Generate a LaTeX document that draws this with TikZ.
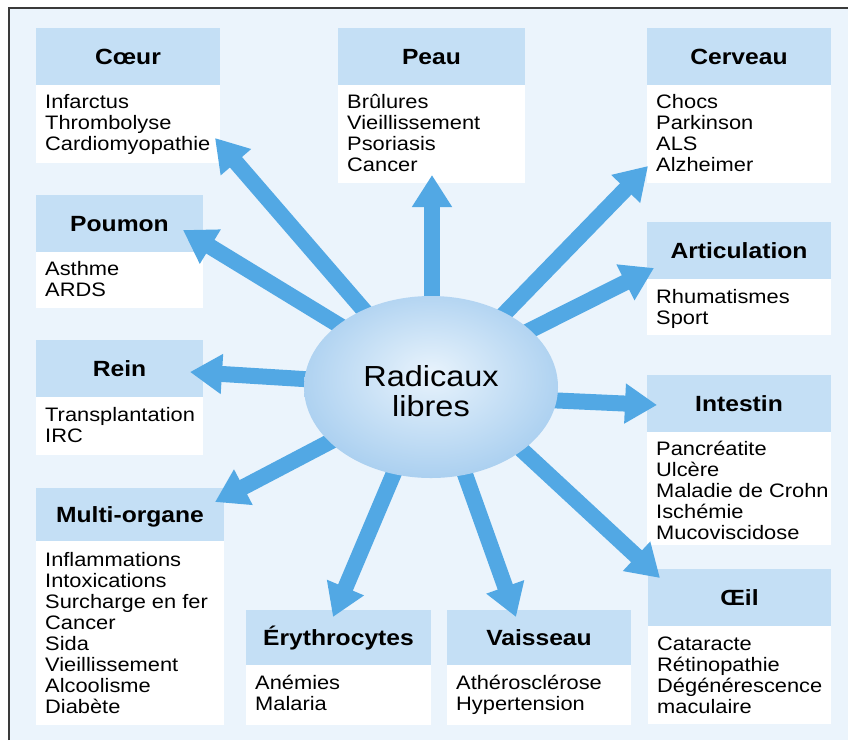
\documentclass[tikz,border=0pt]{standalone}
\usepackage{fontspec}
\setmainfont{Liberation Sans}[FakeStretch=1.12]
\usetikzlibrary{arrows.meta,shapes.geometric}
\definecolor{bgc}{HTML}{EBF4FC}
\definecolor{hdrc}{HTML}{C4DFF5}
\definecolor{arrc}{HTML}{52A8E4}
\definecolor{framec}{HTML}{3A3A3A}
\definecolor{ellin}{HTML}{E8F3FC}
\definecolor{ellout}{HTML}{A6CDEF}
\pgfdeclareradialshading{radsh}{\pgfpoint{0bp}{4bp}}{color(0bp)=(ellin); color(29bp)=(ellout); color(50bp)=(ellout)}
% #1 id, #2 x1, #3 x2, #4 header top, #5 body top, #6 body bottom, #7 title, #8 lines, #9 first baseline offset
\newcommand\organbox[9]{%
  \node[hdr, minimum width={#3-#2}, minimum height={#5-#4}] (#1-h) at ({(#2+#3)/2},{(#4+#5)/2}) {#7};
  \node[bodbox, minimum width={#3-#2}, minimum height={#6-#5}] (#1-b) at ({(#2+#3)/2},{(#5+#6)/2}) {};
  \foreach \t [count=\i] in {#8} {\node[item, anchor=base west] (#1-l\i) at ({#2+9},{#5+#9+21*(\i-1)}) {\t};}
}
\begin{document}
\begin{tikzpicture}[x=1pt,y=-1pt,
  hdr/.style={fill=hdrc, inner sep=0pt, font=\fontsize{22}{24}\selectfont\bfseries, text height=15.8pt, text depth=0pt},
  bodbox/.style={fill=white, inner sep=0pt},
  item/.style={inner sep=0pt, font=\fontsize{19.5}{21}\selectfont},
  arr/.style={line width=16pt, draw=arrc, -{Triangle[width=38pt,length=32pt,fill=arrc]}},
  radstyle/.style={ellipse, minimum width=254pt, minimum height=182pt, inner sep=0pt, shading=radsh},
  radtext/.style={inner sep=0pt, align=center, font=\fontsize{29}{30}\selectfont}
]
\useasboundingbox (0,0) rectangle (848,740);
\fill[white] (0,0) rectangle (848,740);
\fill[bgc] (9,8) rectangle (848,740);
\draw[framec, line width=2pt] (9,740) -- (9,8) -- (848,8);

\organbox{coeur}{36}{220}{28}{85}{163}{Cœur}{Infarctus,Thrombolyse,Cardiomyopathie}{23}
\organbox{peau}{338}{525}{28}{85}{183}{Peau}{Brûlures,Vieillissement,Psoriasis,Cancer}{23}
\organbox{cerveau}{647}{831}{28}{85}{183}{Cerveau}{Chocs,Parkinson,ALS,Alzheimer}{23}
\organbox{poumon}{36}{203}{195}{252}{308}{Poumon}{Asthme,ARDS}{23}
\organbox{artic}{647}{831}{222}{279}{335}{Articulation}{Rhumatismes,Sport}{24}
\organbox{rein}{36}{203}{340}{397}{455}{Rein}{Transplantation,IRC}{24}
\organbox{intestin}{647}{831}{375}{432}{545}{Intestin}{Pancréatite,Ulcère,Maladie de Crohn,Ischémie,Mucoviscidose}{23}
\organbox{multi}{36}{224}{488}{541}{725}{Multi-organe}{Inflammations,Intoxications,Surcharge en fer,Cancer,Sida,Vieillissement,Alcoolisme,Diabète}{25}
\organbox{ery}{246}{431}{610}{665}{725}{Érythrocytes}{Anémies,Malaria}{24}
\organbox{vais}{447}{631}{610}{665}{725}{Vaisseau}{Athérosclérose,Hypertension}{24}
\organbox{oeil}{648}{831}{569}{626}{724}{Œil}{Cataracte,Rétinopathie,Dégénérescence,maculaire}{24}

% arrow start points (hidden under the ellipse) and tips
\coordinate (s-coeur) at (406,359);   \coordinate (t-coeur) at (215,138);
\coordinate (s-poumon) at (396,360);  \coordinate (t-poumon) at (183,230);
\coordinate (s-peau) at (432,330);    \coordinate (t-peau) at (432,175);
\coordinate (s-cerveau) at (474,345); \coordinate (t-cerveau) at (648,166);
\coordinate (s-artic) at (483,354);   \coordinate (t-artic) at (654,268);
\coordinate (s-intestin) at (480,397);\coordinate (t-intestin) at (657,405);
\coordinate (s-rein) at (400,385);    \coordinate (t-rein) at (190,372);
\coordinate (s-multi) at (400,405);   \coordinate (t-multi) at (215,502);
\coordinate (s-ery) at (410,435);     \coordinate (t-ery) at (333,617);
\coordinate (s-vais) at (451,435);    \coordinate (t-vais) at (516,617);
\coordinate (s-oeil) at (468,400);    \coordinate (t-oeil) at (660,578);
\foreach \k in {coeur,poumon,peau,cerveau,artic,intestin,rein,multi,ery,vais,oeil}
  {\draw[arr] (s-\k) -- (t-\k);}

\node[radstyle] (rad) at (431,387) {};
\node[radtext] (radlabel) at (431,391.5) {Radicaux\\libres};
\end{tikzpicture}
\end{document}
